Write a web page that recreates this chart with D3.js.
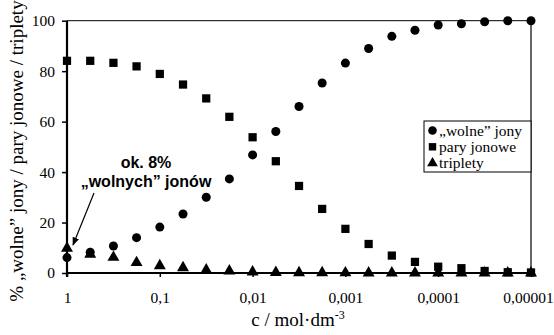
<!DOCTYPE html>
<html><head><meta charset="utf-8">
<script src="https://cdn.jsdelivr.net/npm/d3@7"></script>
<style>
html,body{margin:0;padding:0;background:#fff;}
svg{display:block;}
.serif{font-family:"Liberation Serif","Tinos","Times New Roman",Times,"DejaVu Serif",serif;}
.sans{font-family:"Liberation Sans",Arimo,Arial,sans-serif;}
</style></head>
<body>
<svg id="chart" width="554" height="335"></svg>
<script>
// concentrations c / mol·dm^-3
const conc = [1, 0.562, 0.316, 0.178, 0.1, 0.0562, 0.0316, 0.0178, 0.01, 0.00562, 0.00316, 0.00178, 0.001, 0.000562, 0.000316, 0.000178, 0.0001, 0.0000562, 0.0000316, 0.0000178, 0.00001];
const wolneJony = [6.1, 8.2, 10.7, 14.0, 18.2, 23.4, 30.0, 37.3, 46.8, 56.1, 66.0, 75.3, 83.2, 89.0, 93.8, 96.2, 98.3, 98.8, 99.6, 100, 100];
const paryJonowe = [84.1, 84.1, 83.3, 81.9, 78.9, 74.7, 69.2, 61.9, 53.8, 44.3, 34.5, 25.4, 17.5, 11.5, 6.9, 4.4, 2.5, 1.9, 0.8, 0.3, 0.2];
const triplety = [9.8, 7.4, 6.2, 4.1, 2.9, 2.1, 1.2, 0.8, 0.4, 0.2, 0.1, 0.1, 0.05, 0.03, 0.02, 0.01, 0, 0, 0, 0, 0];
const xTicks = [1, 0.1, 0.01, 0.001, 0.0001, 0.00001];
const xTickLabels = ["1", "0,1", "0,01", "0,001", "0,0001", "0,00001"];
const yTicks = [0, 20, 40, 60, 80, 100];
const seriesNames = ["\u201E" + "wolne\u201D jony", "pary jonowe", "triplety"];

(function () {
const svg = d3.select("#chart");
const pL = 67, pR = 531, pT = 20.7, pB = 273;
const x = d3.scaleLog().domain([1, 0.00001]).range([pL, pR]);
const y = d3.scaleLinear().domain([0, 100]).range([pB, pT]);

// plot frame (top/right thin)
svg.append("line").attr("x1", pL).attr("x2", pR).attr("y1", y(100)).attr("y2", y(100)).attr("stroke", "#000").attr("stroke-width", 1);
svg.append("line").attr("x1", pR).attr("x2", pR).attr("y1", y(100)).attr("y2", pB).attr("stroke", "#000").attr("stroke-width", 1.2);

// axes
const yAxis = svg.append("g").attr("transform", `translate(${pL},0)`)
  .call(d3.axisLeft(y).tickValues(yTicks).tickSize(5).tickPadding(7).tickFormat(d3.format("d")));
const xAxis = svg.append("g").attr("transform", `translate(0,${pB})`)
  .call(d3.axisBottom(x).tickValues(xTicks).tickSize(4).tickPadding(15).tickFormat((d, i) => xTickLabels[i]));
[yAxis, xAxis].forEach(g => {
  g.attr("font-family", null).attr("font-size", null);
  g.select(".domain").attr("stroke-width", 2.2).attr("stroke", "#000");
  g.selectAll(".tick line").attr("stroke", "#000").attr("stroke-width", 1.5);
  g.selectAll("text").attr("class", "serif").style("font-size", "15.5px").attr("fill", "#000");
});
xAxis.selectAll(".tick text").filter((d, i) => i === xTicks.length - 1).attr("dx", -3);
yAxis.select(".domain").attr("d", `M0,${pB + 4}V${pT}`);
xAxis.select(".domain").attr("d", `M${pL},0H${pR}`);

// markers
const sym = (type, size) => d3.symbol().type(type).size(size);
const g = svg.append("g");
g.selectAll(".sq").data(conc).join("path").attr("class", "sq")
  .attr("transform", (d, i) => `translate(${x(d)},${y(paryJonowe[i])})`)
  .attr("d", sym(d3.symbolSquare, 68)).attr("fill", "#000");
g.selectAll(".tr").data(conc).join("path").attr("class", "tr")
  .attr("transform", (d, i) => `translate(${x(d)},${y(triplety[i])})`)
  .attr("d", sym(d3.symbolTriangle, 62)).attr("fill", "#000");
g.selectAll(".ci").data(conc).join("path").attr("class", "ci")
  .attr("transform", (d, i) => `translate(${x(d)},${y(wolneJony[i])})`)
  .attr("d", sym(d3.symbolCircle, 64)).attr("fill", "#000");

// legend
const lx = 424, ly = 121, lw = pR - lx, lh = 51;
svg.append("rect").attr("x", lx).attr("y", ly).attr("width", lw).attr("height", lh)
  .attr("fill", "#fff").attr("stroke", "#000").attr("stroke-width", 1);
const legTypes = [d3.symbolCircle, d3.symbolSquare, d3.symbolTriangle];
const legSizes = [58, 55, 50];
seriesNames.forEach((n, i) => {
  const cy = ly + 9.5 + i * 16.3;
  svg.append("path").attr("transform", `translate(${lx + 8.5},${cy})`).attr("d", sym(legTypes[i], legSizes[i])).attr("fill", "#000");
  svg.append("text").attr("class", "serif").attr("x", lx + 15).attr("y", cy + 5).style("font-size", "15.5px")
    .attr("fill", "#000").text(n);
});

// axis titles
svg.append("text").attr("class", "serif").attr("transform", `translate(23,151) rotate(-90)`)
  .attr("text-anchor", "middle").style("font-size", "19px").attr("fill", "#000")
  .text("% \u201E" + "wolne\u201D jony / pary jonowe / triplety");
const xt = svg.append("text").attr("class", "serif").attr("x", 298).attr("y", 326).attr("text-anchor", "middle")
  .style("font-size", "19px").attr("fill", "#000");
xt.append("tspan").text("c / mol\u00B7dm");
xt.append("tspan").style("font-size", "12px").attr("dy", -7).text("-3");

// annotation
svg.append("text").attr("class", "sans").attr("x", 146).attr("y", 168).attr("text-anchor", "middle")
  .attr("font-weight", "bold").style("font-size", "16px").attr("fill", "#000").text("ok. 8%");
svg.append("text").attr("class", "sans").attr("x", 146).attr("y", 187).attr("text-anchor", "middle")
  .attr("font-weight", "bold").style("font-size", "16px").attr("fill", "#000").text("\u201E" + "wolnych\u201D jonów");
svg.append("defs").append("marker").attr("id", "ah").attr("viewBox", "0 0 10 10").attr("refX", 9).attr("refY", 5)
  .attr("markerWidth", 7).attr("markerHeight", 7).attr("orient", "auto")
  .append("path").attr("d", "M0,1L10,5L0,9z").attr("fill", "#000");
svg.append("line").attr("x1", 94).attr("y1", 193).attr("x2", 73).attr("y2", 245)
  .attr("stroke", "#000").attr("stroke-width", 1.2).attr("marker-end", "url(#ah)");
})();
</script>
</body></html>
